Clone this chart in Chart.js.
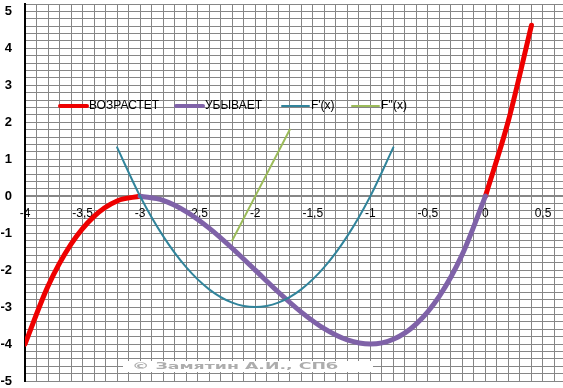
<!DOCTYPE html>
<html>
<head>
<meta charset="utf-8">
<script src="https://cdn.jsdelivr.net/npm/chart.js@4.4.0/dist/chart.umd.min.js"></script>
<style>
  html, body { margin: 0; padding: 0; background: #fff; overflow: hidden; }
  #wrap { position: relative; width: 566px; height: 388px; }
</style>
</head>
<body>
<div id="wrap"><canvas id="chart"></canvas></div>
<script>
// f(x) increasing parts (red)
const upLeftX = [-4, -3.8, -3.6, -3.4, -3.2, -3];
const upLeftY = [-4, -2.432, -1.296, -0.544, -0.128, 0];
const upRightX = [0, 0.2, 0.4];
const upRightY = [0, 2.048, 4.624];

// f(x) decreasing part (purple)
const downX = [-3, -2.8, -2.6, -2.4, -2.2, -2, -1.8, -1.6, -1.4, -1.2, -1, -0.8, -0.6, -0.4, -0.2, 0];
const downY = [0, -0.112, -0.416, -0.864, -1.408, -2, -2.592, -3.136, -3.584, -3.888, -4, -3.872, -3.456, -2.704, -1.568, 0];

// F'(x)
const d1X = [-3.2, -3, -2.8, -2.6, -2.4, -2.2, -2, -1.8, -1.6, -1.4, -1.2, -1, -0.8];
const d1Y = [1.32, 0, -1.08, -1.92, -2.52, -2.88, -3, -2.88, -2.52, -1.92, -1.08, 0, 1.32];

// F''(x)
const d2X = [-2.2, -1.7];
const d2Y = [-1.2, 1.8];

const legendItems = [
    { text: 'ВОЗРАСТЕТ', color: '#ee0000', width: 4 },
    { text: 'УБЫВАЕТ', color: '#7f62a8', width: 4 },
    { text: "F'(x)", color: '#31849b', width: 2 },
    { text: "F''(x)", color: '#9bbb59', width: 2 }
];

function pts(xs, ys) {
    return xs.map((x, i) => ({ x: x, y: ys[i] }));
}

function near(v, step) {
    return Math.abs(v / step - Math.round(v / step)) < 1e-6;
}

const gridColor = '#868686';

const legendPlugin = {
    id: 'insideLegend',
    afterDatasetsDraw(chart) {
        const ctx = chart.ctx;
        const y = 106;
        const starts = [60, 176, 282, 352];
        ctx.save();
        ctx.font = '12px "Liberation Sans", Arial, sans-serif';
        ctx.textBaseline = 'middle';
        legendItems.forEach((item, i) => {
            const x0 = starts[i];
            ctx.strokeStyle = item.color;
            ctx.lineWidth = item.width;
            ctx.lineCap = 'round';
            ctx.beginPath();
            ctx.moveTo(x0, y);
            ctx.lineTo(x0 + 27, y);
            ctx.stroke();
            ctx.fillStyle = '#000';
            ctx.fillText(item.text, x0 + 29, y);
        });

        // watermark strip
        ctx.fillStyle = '#fff';
        ctx.fillRect(123, 361, 250, 11);
        ctx.font = 'bold 9px "DejaVu Sans", sans-serif';
        const txt = '© Замятин А.И., СПб';
        const w = ctx.measureText(txt).width;
        ctx.translate(132, 366.5);
        ctx.scale(206 / w, 1);
        ctx.fillStyle = '#adadad';
        ctx.fillText(txt, 0, 0);
        ctx.restore();
    }
};

new Chart(document.getElementById('chart'), {
    type: 'line',
    data: {
        datasets: [
            {
                label: 'ВОЗРАСТЕТ',
                data: pts(upLeftX, upLeftY),
                borderColor: '#ee0000',
                borderWidth: 5,
                order: 4
            },
            {
                label: 'ВОЗРАСТЕТ',
                data: pts(upRightX, upRightY),
                borderColor: '#ee0000',
                borderWidth: 5,
                order: 4
            },
            {
                label: 'УБЫВАЕТ',
                data: pts(downX, downY),
                borderColor: '#7f62a8',
                borderWidth: 5,
                order: 3
            },
            {
                label: "F'(x)",
                data: pts(d1X, d1Y),
                borderColor: '#31849b',
                borderWidth: 2,
                order: 2
            },
            {
                label: "F''(x)",
                data: pts(d2X, d2Y),
                borderColor: '#9bbb59',
                borderWidth: 2,
                order: 1
            }
        ]
    },
    options: {
        responsive: true,
        maintainAspectRatio: false,
        animation: false,
        layout: { padding: { top: 4, right: 0, bottom: 7, left: 0 } },
        elements: {
            point: { radius: 0 },
            line: { tension: 0.4, cubicInterpolationMode: 'monotone', borderCapStyle: 'round' }
        },
        plugins: {
            legend: { display: false },
            tooltip: { enabled: false }
        },
        scales: {
            x: {
                type: 'linear',
                min: -4,
                max: 0.7,
                position: { y: 0 },
                grid: { color: gridColor, lineWidth: 1, drawTicks: false },
                border: { color: '#868686', width: 2 },
                afterFit(scale) {
                    scale.height = 0;
                    scale.paddingLeft = 0;
                    scale.paddingRight = 0;
                },
                ticks: {
                    stepSize: 0.1,
                    autoSkip: false,
                    maxRotation: 0,
                    padding: 10,
                    color: '#000',
                    font: { family: '"Liberation Sans", Arial, sans-serif', size: 12 },
                    callback: v => near(v, 0.5) ? String(Math.round(v * 2) / 2).replace('.', ',') : ''
                }
            },
            y: {
                type: 'linear',
                min: -5,
                max: 5.2,
                grid: { color: gridColor, lineWidth: 1, drawTicks: false },
                border: { color: '#000', width: 2 },
                afterFit(scale) {
                    scale.width = 25;
                    scale.paddingTop = 0;
                    scale.paddingBottom = 0;
                },
                ticks: {
                    stepSize: 0.2,
                    autoSkip: false,
                    padding: 13,
                    color: '#000',
                    font: { family: '"Liberation Sans", Arial, sans-serif', size: 13, weight: 'bold' },
                    callback: v => near(v, 1) ? String(Math.round(v)) : ''
                }
            }
        }
    },
    plugins: [legendPlugin]
});
</script>
</body>
</html>
